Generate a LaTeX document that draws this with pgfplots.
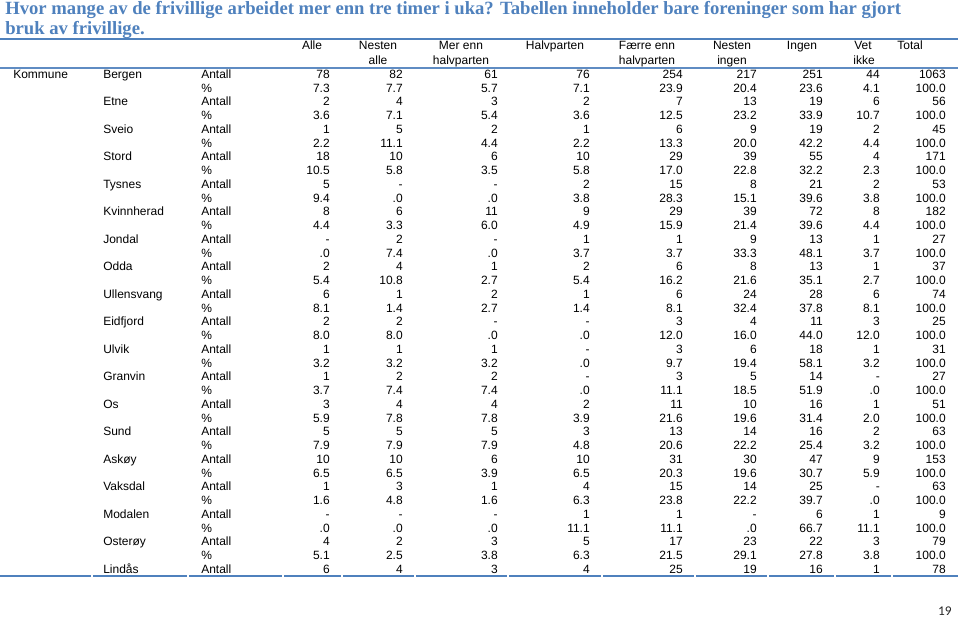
\documentclass[border=0pt]{standalone}
\usepackage{pgfplots}
\pgfplotsset{compat=1.18}
\usepackage{pgfplotstable}
\usepackage{fontspec}
\setmainfont{Liberation Sans}
\newfontfamily\titlefont{Liberation Serif}
\newfontfamily\pagefont{Carlito}
\definecolor{headblue}{RGB}{79,129,189}
\definecolor{ruleblue}{RGB}{95,140,195}

% r = row (0 = Bergen Antall), one column per answer
\pgfplotstableread{
r kind alle nesten mer halv faerre ningen ingen vet total
0 Antall 78 82 61 76 254 217 251 44 1063
1 \% 7.3 7.7 5.7 7.1 23.9 20.4 23.6 4.1 100.0
2 Antall 2 4 3 2 7 13 19 6 56
3 \% 3.6 7.1 5.4 3.6 12.5 23.2 33.9 10.7 100.0
4 Antall 1 5 2 1 6 9 19 2 45
5 \% 2.2 11.1 4.4 2.2 13.3 20.0 42.2 4.4 100.0
6 Antall 18 10 6 10 29 39 55 4 171
7 \% 10.5 5.8 3.5 5.8 17.0 22.8 32.2 2.3 100.0
8 Antall 5 - - 2 15 8 21 2 53
9 \% 9.4 .0 .0 3.8 28.3 15.1 39.6 3.8 100.0
10 Antall 8 6 11 9 29 39 72 8 182
11 \% 4.4 3.3 6.0 4.9 15.9 21.4 39.6 4.4 100.0
12 Antall - 2 - 1 1 9 13 1 27
13 \% .0 7.4 .0 3.7 3.7 33.3 48.1 3.7 100.0
14 Antall 2 4 1 2 6 8 13 1 37
15 \% 5.4 10.8 2.7 5.4 16.2 21.6 35.1 2.7 100.0
16 Antall 6 1 2 1 6 24 28 6 74
17 \% 8.1 1.4 2.7 1.4 8.1 32.4 37.8 8.1 100.0
18 Antall 2 2 - - 3 4 11 3 25
19 \% 8.0 8.0 .0 .0 12.0 16.0 44.0 12.0 100.0
20 Antall 1 1 1 - 3 6 18 1 31
21 \% 3.2 3.2 3.2 .0 9.7 19.4 58.1 3.2 100.0
22 Antall 1 2 2 - 3 5 14 - 27
23 \% 3.7 7.4 7.4 .0 11.1 18.5 51.9 .0 100.0
24 Antall 3 4 4 2 11 10 16 1 51
25 \% 5.9 7.8 7.8 3.9 21.6 19.6 31.4 2.0 100.0
26 Antall 5 5 5 3 13 14 16 2 63
27 \% 7.9 7.9 7.9 4.8 20.6 22.2 25.4 3.2 100.0
28 Antall 10 10 6 10 31 30 47 9 153
29 \% 6.5 6.5 3.9 6.5 20.3 19.6 30.7 5.9 100.0
30 Antall 1 3 1 4 15 14 25 - 63
31 \% 1.6 4.8 1.6 6.3 23.8 22.2 39.7 .0 100.0
32 Antall - - - 1 1 - 6 1 9
33 \% .0 .0 .0 11.1 11.1 .0 66.7 11.1 100.0
34 Antall 4 2 3 5 17 23 22 3 79
35 \% 5.1 2.5 3.8 6.3 21.5 29.1 27.8 3.8 100.0
36 Antall 6 4 3 4 25 19 16 1 78
}\tab

\pgfplotstableread{
r name
0 Bergen
2 Etne
4 Sveio
6 Stord
8 Tysnes
10 Kvinnherad
12 Jondal
14 Odda
16 Ullensvang
18 Eidfjord
20 Ulvik
22 Granvin
24 Os
26 Sund
28 Askøy
30 Vaksdal
32 Modalen
34 Osterøy
36 Lindås
}\names

\pgfplotstableread{
x label
312 Alle
378 Nesten
461 {Mer enn}
555 Halvparten
647 {Færre enn}
732 Nesten
802 Ingen
863 Vet
910 Total
}\headone

\pgfplotstableread{
x label
378 alle
461 halvparten
647 halvparten
732 ingen
864 ikke
}\headtwo

\begin{document}
\begin{tikzpicture}
\begin{axis}[
    scale only axis,
    width=719.25pt, height=462.75pt,
    xmin=0, xmax=959, ymin=0, ymax=617,
    y dir=reverse,
    hide axis, clip=false,
    unbounded coords=jump,
    point meta=explicit symbolic,
    nodes near coords,
    nodes near coords style={anchor=base east, inner sep=0pt,
        font=\fontsize{9pt}{10pt}\selectfont},
]
% rules
\addplot[draw=headblue, line width=1.5pt] coordinates {(0,38.8) (958,38.8)};
\addplot[draw=ruleblue, line width=1.2pt] coordinates {(0,68.3) (958,68.3)};
\addplot[draw=headblue, line width=1.5pt] coordinates {
    (0,576) (91,576) (92,nan)
    (93,576) (187,576) (188,nan)
    (189,576) (282,576) (283,nan)
    (284,576) (341,576) (342,nan)
    (343,576) (414,576) (415,nan)
    (416,576) (507,576) (508,nan)
    (509,576) (601,576) (602,nan)
    (603,576) (694,576) (695,nan)
    (696,576) (767,576) (768,nan)
    (769,576) (834,576) (835,nan)
    (836,576) (891,576) (892,nan)
    (893,576) (958,576)};

% header
\addplot[draw=none, nodes near coords style={anchor=base}]
    table[x=x, y expr=49.5, meta=label] \headone;
\addplot[draw=none, nodes near coords style={anchor=base}]
    table[x=x, y expr=64.5, meta=label] \headtwo;

% row labels
\addplot[draw=none, nodes near coords style={anchor=base west}]
    coordinates {(13,78.3) [Kommune]};
\addplot[draw=none, nodes near coords style={anchor=base west}]
    table[x expr=103, y expr=78.3+13.75*\thisrow{r}, meta=name] \names;
\addplot[draw=none, nodes near coords style={anchor=base west}]
    table[x expr=201, y expr=78.3+13.75*\thisrow{r}, meta=kind] \tab;

% values, right aligned per column
\addplot[draw=none] table[x expr=330, y expr=78.3+13.75*\thisrow{r}, meta=alle] \tab;
\addplot[draw=none] table[x expr=403, y expr=78.3+13.75*\thisrow{r}, meta=nesten] \tab;
\addplot[draw=none] table[x expr=498, y expr=78.3+13.75*\thisrow{r}, meta=mer] \tab;
\addplot[draw=none] table[x expr=590, y expr=78.3+13.75*\thisrow{r}, meta=halv] \tab;
\addplot[draw=none] table[x expr=683, y expr=78.3+13.75*\thisrow{r}, meta=faerre] \tab;
\addplot[draw=none] table[x expr=757, y expr=78.3+13.75*\thisrow{r}, meta=ningen] \tab;
\addplot[draw=none] table[x expr=823, y expr=78.3+13.75*\thisrow{r}, meta=ingen] \tab;
\addplot[draw=none] table[x expr=880, y expr=78.3+13.75*\thisrow{r}, meta=vet] \tab;
\addplot[draw=none] table[x expr=946, y expr=78.3+13.75*\thisrow{r}, meta=total] \tab;

% title and page number
\node[anchor=base west, inner sep=0pt, text=headblue,
      font=\titlefont\bfseries\fontsize{14pt}{15pt}\selectfont]
    at (axis cs:5,15) {Hvor mange av de frivillige arbeidet mer enn tre timer i uka? Tabellen inneholder bare foreninger som har gjort};
\node[anchor=base west, inner sep=0pt, text=headblue,
      font=\titlefont\bfseries\fontsize{14pt}{15pt}\selectfont]
    at (axis cs:5,35) {bruk av frivillige.};
\node[anchor=base east, inner sep=0pt, text=black!85,
      font=\pagefont\fontsize{10pt}{11pt}\selectfont]
    at (axis cs:952,615) {19};
\end{axis}
\pgfresetboundingbox
\path (current axis.south west) rectangle (current axis.north east);
\end{tikzpicture}
\end{document}
